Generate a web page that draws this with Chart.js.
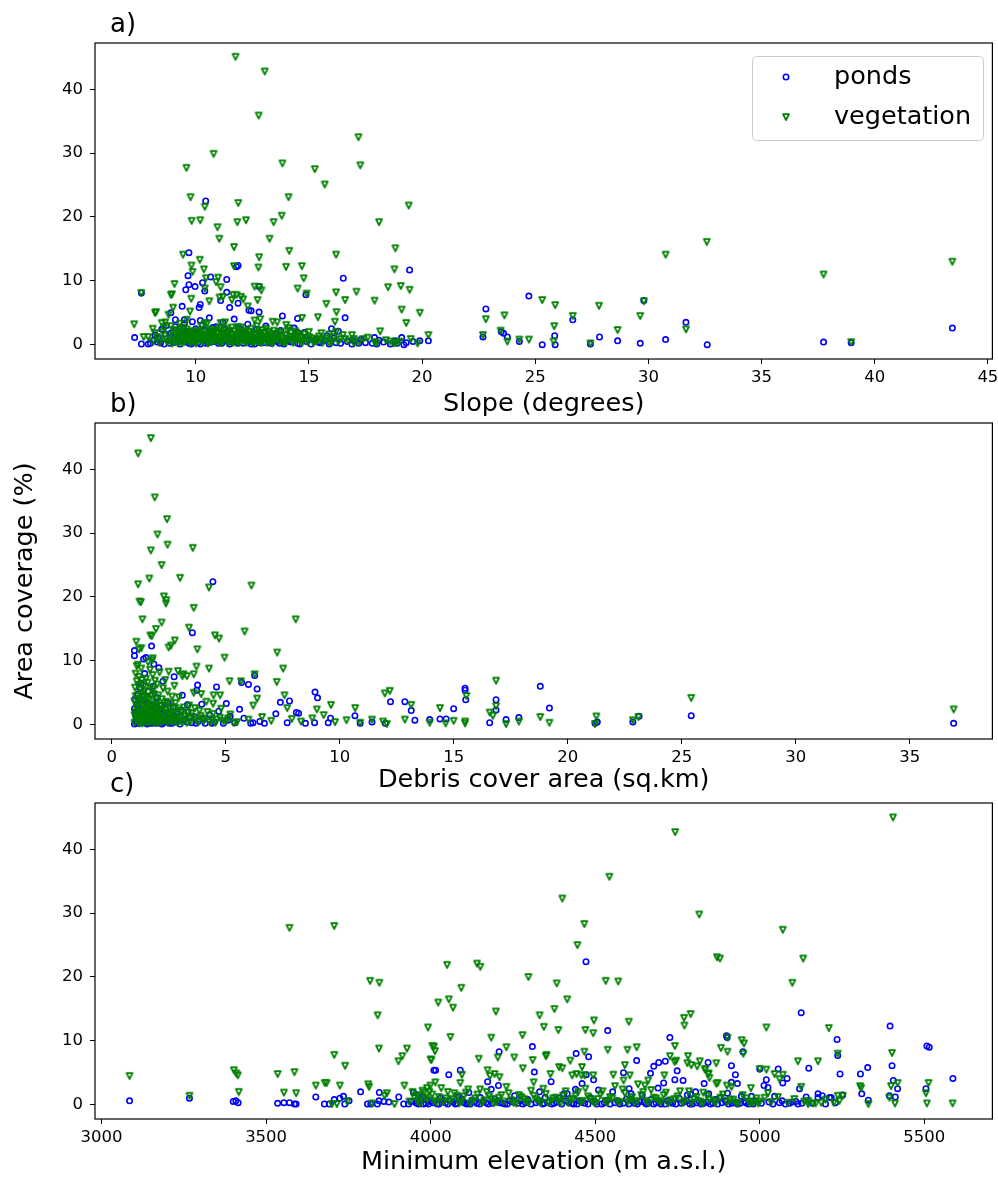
<!DOCTYPE html>
<html>
<head>
<meta charset="utf-8">
<script src="https://cdn.jsdelivr.net/npm/chart.js@4.4.1/dist/chart.umd.min.js"></script>
<style>
  html, body { margin: 0; padding: 0; background: #fff; }
  #wrap { position: relative; width: 998px; height: 1178px; }
  canvas { position: absolute; left: 0; }
</style>
</head>
<body>
<div id="wrap">
  <canvas id="panelA" width="998" height="420" style="top:0px"></canvas>
  <canvas id="panelB" width="998" height="420" style="top:380px"></canvas>
  <canvas id="panelC" width="998" height="418" style="top:760px"></canvas>
</div>
<script>
// tick labels
const yTicks = [0, 10, 20, 30, 40];
const slopeTicks = [10, 15, 20, 25, 30, 35, 40, 45];
const areaTicks = [0, 5, 10, 15, 20, 25, 30, 35];
const elevTicks = [3000, 3500, 4000, 4500, 5000, 5500];
const seriesNames = ['ponds', 'vegetation'];

// a) slope (degrees) vs area coverage (%)
const slopePonds = [
  [10.44,22.5],[9.7,14.4],[11.87,12.4],[9.66,10.8],[10.66,10.6],[11.37,10.2],[16.52,10.4],[19.45,11.7],
  [9.7,9.4],[9.97,9.1],[10.4,8.4],[12.8,9.1],[11.37,8.2],[7.6,8.1],[14.87,7.8],[11.1,6.9],[11.87,6.5],
  [10.2,6.3],[10.15,5.8],[9.4,6.0],[11.5,5.8],[12.35,5.4],[12.45,5.3],[12.8,5.1],[13.83,4.5],[14.5,4.1],
  [16.6,4.2],[9.1,3.9],[9.5,3.9],[8.9,5.0],[10.2,3.8],[16.0,2.5],[16.3,2.1],[14.5,1.9],[14.8,1.9],
  [15.8,1.4],[17.9,1.1],[18.1,0.7],[19.1,1.1],[19.6,0.5],[19.9,0.6],[7.3,1.1],[7.6,0.1],[7.9,0.1],
  [17.2,0.2],[17.5,0.3],[18.6,0.1],[18.9,0.2],[19.2,0],[10.3,9.7],[9.56,8.6],[11.8,12.2],
  [20.28,0.6],[22.82,5.6],[22.69,1.2],[23.5,2.0],[23.6,1.8],[23.77,1.2],[24.3,0.5],[24.72,7.6],
  [25.31,0],[25.86,1.4],[25.88,0],[26.66,3.9],[27.44,0.1],[27.84,1.2],[28.64,0.6],[29.64,0.2],
  [29.8,6.9],[30.76,0.8],[31.66,3.5],[32.6,0],[37.74,0.4],[38.96,0.3],[43.43,2.6],
  [8.0,0.2],[8.2,1.5],[8.3,0.4],[8.5,2.4],[8.6,0.1],[8.7,3.0],[8.8,0.6],[8.9,1.8],[9.0,0.3],[9.1,2.8],
  [9.2,0.9],[9.3,0.1],[9.4,1.4],[9.5,3.3],[9.55,0.5],[9.6,2.0],[9.7,0.2],[9.8,1.1],[9.85,3.6],[9.9,0.4],
  [10.0,2.5],[10.05,0.8],[10.1,1.6],[10.2,0.1],[10.3,3.1],[10.35,0.6],[10.4,2.2],[10.5,1.0],[10.55,0.3],
  [10.6,4.2],[10.7,1.9],[10.8,0.5],[10.9,2.8],[11.0,0.2],[11.1,1.3],[11.2,3.5],[11.3,0.7],[11.4,2.1],
  [11.5,0.1],[11.6,1.6],[11.7,4.0],[11.8,0.4],[11.9,2.6],[12.0,0.9],[12.1,0.2],[12.2,1.8],[12.3,3.2],
  [12.4,0.5],[12.5,1.2],[12.6,0.1],[12.7,2.4],[12.8,0.7],[12.9,1.5],[13.0,0.3],[13.1,2.9],[13.2,0.9],
  [13.35,0.2],[13.5,1.7],[13.6,0.5],[13.75,2.2],[13.9,0.1],[14.0,1.0],[14.2,0.4],[14.35,2.6],[14.5,0.2],
  [14.7,1.2],[14.9,0.5],[15.1,0.1],[15.3,0.9],[15.5,0.3],[15.7,0.6],[15.9,0.1],[16.1,1.0],[16.4,0.2],
  [16.7,0.5],[16.9,0.1],[17.3,0.8],[17.8,0.2],[18.3,0.4],[19.3,0.3]
];
const slopePondsBand = [
  [8.15,0.7],[8.35,1.1],[8.45,0.3],[8.65,1.7],[8.85,0.2],[9.05,1.2],[9.25,0.5],[9.45,2.5],[9.65,0.8],
  [9.8,0.1],[9.95,1.7],[10.1,0.3],[10.25,1.3],[10.45,0.2],[10.6,0.9],[10.75,2.7],[10.95,0.6],[11.15,0.2],
  [11.25,2.4],[11.45,0.4],[11.65,1.1],[11.85,0.2],[12.05,1.5],[12.25,0.6],[12.45,0.1],[12.65,1.0],
  [12.85,0.3],[13.05,1.9],[13.25,0.3],[13.45,1.1],[13.7,0.2],[14.1,0.6],[14.4,1.5],[14.6,0.1],[15.0,0.8],
  [15.4,0.4],[16.2,0.3],[17.0,0.6],[18.0,0.1],[18.8,0.6]
];
const slopeVeg = [
  [11.76,45.1],[13.05,42.8],[12.78,35.9],[17.19,32.5],[17.27,28.1],[10.79,29.9],[9.59,27.7],[13.83,28.4],
  [15.26,27.5],[15.7,25.1],[9.77,23.1],[14.1,23.1],[11.88,22.2],[10.4,21.6],[19.41,21.8],[9.82,19.4],
  [10.2,19.5],[11.84,19.2],[12.22,19.5],[13.44,19.2],[13.8,20.2],[18.1,19.2],[10.96,18.4],[11.04,16.6],
  [13.26,16.6],[11.69,15.3],[14.13,14.7],[16.2,14.1],[9.44,14.1],[18.82,15.1],[10.18,13.3],[12.8,13.7],
  [9.81,12.4],[11.69,12.3],[12.77,12.1],[13.99,12.2],[14.69,12.3],[18.78,11.8],[9.86,11.4],[10.36,11.8],
  [14.77,10.4],[10.99,10.5],[19.06,9.2],[18.5,9.0],[19.45,8.6],[19.9,5.0],[19.1,5.5],[19.3,3.4],[18.15,2.1],
  [17.9,6.9],[17.1,8.3],[16.2,8.2],[16.6,7.0],[15.77,6.4],[16.22,5.1],[16.15,3.6],[15.4,4.3],[14.7,4.2],
  [14.5,8.8],[14.9,8.0],[12.9,8.5],[12.6,9.1],[12.8,9.0],[12.73,7.0],[12.0,7.5],[12.1,7.1],[12.3,6.0],
  [11.8,7.8],[11.65,7.8],[11.6,7.0],[11.2,7.5],[11.05,7.4],[10.9,9.8],[11.1,9.0],[10.6,6.8],[10.4,8.8],
  [10.45,10.4],[9.8,7.2],[9.75,5.2],[9.6,3.9],[9.06,9.5],[8.9,7.8],[8.95,7.9],[8.2,5.0],[8.25,5.1],
  [8.8,4.7],[9.0,5.8],[7.59,8.1],[7.28,3.2],[8.1,2.5],[7.9,1.2],[7.7,1.2],[8.5,3.4],[8.65,3.5],[9.3,3.3],
  [10.5,3.3],[11.1,3.4],[11.3,3.5],[12.6,3.8],[12.85,4.0],[13.4,3.6],[13.6,3.5],[14.0,3.1],[14.1,2.6],[14.4,2.1],
  [20.28,1.5],[22.82,4.0],[22.69,1.5],[23.47,2.2],[23.64,4.6],[23.77,0.5],[24.3,0.8],[24.72,0.8],[25.31,7.0],
  [25.88,6.2],[25.84,2.9],[25.81,0.5],[26.66,4.5],[27.44,0.2],[27.82,6.1],[28.64,2.3],[29.64,4.5],[29.8,6.8],
  [30.76,14.1],[31.66,2.4],[32.58,16.1],[37.74,11.0],[38.96,0.4],[43.43,13.0],
  [8.1,0.5],[8.3,1.2],[8.4,0.3],[8.55,2.0],[8.7,0.8],[8.8,1.5],[8.95,0.2],[9.05,2.3],[9.15,1.0],[9.25,0.4],
  [9.35,1.8],[9.45,2.7],[9.55,0.7],[9.65,1.4],[9.75,0.3],[9.85,2.1],[9.95,1.1],[10.05,0.5],[10.15,1.9],
  [10.25,2.9],[10.3,0.9],[10.45,1.5],[10.55,0.2],[10.65,2.4],[10.75,1.2],[10.85,0.6],[10.95,1.7],[11.05,2.6],
  [11.15,0.4],[11.25,1.3],[11.35,0.8],[11.45,2.2],[11.55,1.0],[11.65,0.3],[11.75,1.6],[11.85,2.8],[11.95,0.6],
  [12.05,1.4],[12.15,2.0],[12.25,0.3],[12.35,1.1],[12.45,2.5],[12.55,0.7],[12.65,1.8],[12.75,0.4],[12.85,1.3],
  [12.95,2.3],[13.05,0.9],[13.15,0.3],[13.25,1.7],[13.4,0.6],[13.55,1.2],[13.7,2.0],[13.85,0.5],[14.0,1.5],
  [14.15,0.8],[14.3,0.3],[14.45,1.1],[14.6,0.6],[14.8,1.6],[14.95,0.4],[15.15,1.0],[15.35,0.5],[15.55,1.8],
  [15.7,0.7],[15.9,0.3],[16.1,1.2],[16.3,0.5],[16.5,1.5],[16.75,0.6],[17.0,0.2],[17.4,0.9],[17.9,0.4],
  [18.4,0.7],[18.75,0.2],[18.85,0.3],[19.0,0.5]
];
const slopeVegBand = [
  [8.2,1.8],[8.45,0.9],[8.6,2.6],[8.75,0.4],[8.9,2.9],[9.0,1.3],[9.1,0.6],[9.2,2.0],[9.3,1.1],[9.4,0.2],
  [9.5,1.6],[9.6,2.4],[9.7,0.9],[9.8,1.8],[9.9,0.5],[10.0,1.3],[10.1,2.2],[10.2,0.7],[10.35,1.4],[10.4,3.4],
  [10.5,0.9],[10.6,1.7],[10.7,0.4],[10.8,2.1],[10.9,1.0],[11.0,0.5],[11.1,1.9],[11.2,0.7],[11.3,2.5],
  [11.4,1.5],[11.5,0.5],[11.6,2.7],[11.7,1.0],[11.8,0.5],[11.9,1.9],[12.0,2.7],[12.1,1.2],[12.2,0.6],
  [12.3,1.5],[12.4,2.0],[12.5,0.9],[12.6,0.4],[12.7,2.9],[12.8,1.1],[12.9,0.6],[13.0,1.8],[13.1,2.5],
  [13.2,1.1],[13.3,0.4],[13.45,2.2],[13.6,0.9],[13.75,1.4],[13.9,0.3],[14.05,2.2],[14.2,1.2],[14.4,0.6],
  [14.55,1.7],[14.7,0.3],[14.85,1.0],[15.0,2.0],[15.25,0.7],[15.45,1.3],[15.6,0.3],[15.8,1.0],[16.0,0.4],
  [16.2,2.0],[16.6,0.9],[16.9,1.5],[17.2,0.4],[17.6,1.1],[18.0,0.3],[18.6,0.5],[19.5,0.9],[19.8,0.2],
  [9.0,0.4],[9.1,1.7],[9.2,0.3],[9.3,2.4],[9.4,1.2],[9.5,0.4],[9.6,1.0],[9.7,1.9],[9.8,0.6],[9.9,1.4],
  [10.0,0.2],[10.1,1.1],[10.2,1.8],[10.3,0.4],[10.4,1.2],[10.5,2.1],[10.6,0.5],[10.7,1.4],[10.8,0.9],
  [10.9,2.3],[11.0,1.2],[11.1,0.3],[11.2,1.6],[11.3,1.1],[11.4,0.3],[11.5,1.9],[11.6,0.6],[11.7,2.1],
  [11.8,1.2],[11.9,0.3],[12.0,1.6],[12.1,0.5],[12.2,2.2],[12.3,0.8],[12.4,1.3],[12.5,0.3],[12.6,1.5],
  [12.7,0.7],[12.8,1.9],[12.9,0.3],[13.0,1.1],[13.1,0.5],[13.2,2.0],[13.3,1.3],[13.4,0.2],[13.5,0.9],
  [13.6,1.7],[13.7,0.5],[13.8,1.1],[14.0,0.4],[14.2,1.9],[14.35,0.9],[14.5,1.4],[14.7,0.8],[15.0,1.2],
  [15.2,0.3],[15.5,0.9],[15.9,1.6],[16.4,0.9],[17.0,0.9]
];

// b) debris cover area (sq.km) vs area coverage (%)
const areaPonds = [
  [4.44,22.4],[3.54,14.4],[1.75,12.3],[1.0,11.6],[1.0,10.8],[1.4,10.3],[1.5,10.5],[2.07,8.9],[2.74,7.5],
  [6.27,7.7],[5.7,6.6],[6.0,6.3],[6.38,5.6],[3.77,6.2],[4.6,5.9],[3.73,5.4],[8.92,5.1],[9.03,4.2],[7.8,3.7],
  [7.4,3.5],[5.03,3.3],[3.32,3.1],[5.61,2.4],[8.2,1.8],[8.1,1.9],[10.67,1.4],[9.6,1.0],[5.2,1.3],[7.2,1.7],
  [6.2,0.3],[6.1,0.2],[6.7,0.2],[7.7,0.3],[8.5,0.2],[8.9,0.3],[9.5,0.3],[10.9,0.2],[11.42,0.4],[12.0,0.2],
  [12.23,3.6],[12.86,3.6],[13.14,2.2],[13.3,0.7],[13.95,0.8],[14.4,0.9],[14.67,0.9],[15.0,2.5],[15.5,5.7],
  [15.5,5.4],[15.53,3.9],[16.58,0.3],[16.86,3.9],[16.86,2.3],[17.3,0.8],[17.86,1.1],[18.8,6.0],[19.2,2.6],
  [21.2,0.2],[21.3,0.4],[22.86,0.4],[23.13,1.3],[25.42,1.4],[36.93,0.2],
  [1.0,0.1],[1.05,1.5],[1.1,3.2],[1.1,0.5],[1.15,4.8],[1.2,2.1],[1.25,0.2],[1.3,6.5],[1.3,1.0],[1.35,3.8],
  [1.4,0.4],[1.45,8.0],[1.5,2.6],[1.55,0.1],[1.6,5.2],[1.65,1.3],[1.7,0.6],[1.75,3.0],[1.8,0.2],[1.85,9.5],
  [1.9,1.8],[1.95,0.4],[2.0,4.2],[2.05,0.9],[2.1,2.4],[2.2,0.1],[2.25,6.8],[2.3,1.5],[2.4,0.5],[2.45,3.5],
  [2.55,0.2],[2.6,1.1],[2.7,2.8],[2.8,0.4],[2.9,1.7],[3.0,0.1],[3.1,4.6],[3.2,0.8],[3.35,2.0],[3.5,0.3],
  [3.65,1.2],[3.8,0.5],[3.95,3.2],[4.1,0.2],[4.3,1.5],[4.5,0.4],[4.7,2.1],[4.9,0.2],[5.1,0.7],[5.4,0.3],
  [5.8,1.0],[6.5,0.5]
];
const areaPondsBand = [
  [1.0,2.5],[1.02,4.0],[1.05,0.6],[1.08,1.9],[1.12,0.2],[1.15,2.9],[1.2,1.2],[1.22,5.8],[1.28,0.5],
  [1.32,2.4],[1.38,1.5],[1.42,4.4],[1.48,0.3],[1.52,1.8],[1.58,0.8],[1.62,3.4],[1.68,0.2],[1.72,2.0],
  [1.78,1.0],[1.82,6.0],[1.88,0.5],[1.92,2.8],[1.98,0.2],[2.02,1.3],[2.12,0.6],[2.18,3.0],[2.28,0.3],
  [2.35,1.9],[2.5,0.6],[2.65,0.2],[2.75,1.4],[2.95,0.6],[3.05,2.3],[3.3,0.4],[3.45,1.2],[3.7,0.2],
  [4.0,0.9],[4.4,0.2]
];
const areaVeg = [
  [1.72,44.9],[1.16,42.5],[1.89,35.6],[2.43,32.2],[2.01,29.8],[2.45,28.2],[3.56,27.7],[1.72,27.3],[2.19,25.0],
  [1.65,22.9],[3.0,23.0],[1.16,22.0],[4.27,21.5],[6.13,21.8],[2.29,20.1],[2.4,19.5],[1.22,19.3],[1.28,19.2],
  [2.38,19.0],[3.6,18.3],[1.35,16.5],[8.07,16.5],[2.19,16.0],[1.94,15.0],[3.39,15.2],[1.7,14.0],[1.76,13.9],
  [4.53,14.0],[4.71,13.5],[5.83,14.6],[1.08,13.0],[2.77,13.2],[2.6,12.4],[2.5,12.1],[1.3,12.0],[1.2,11.8],
  [3.76,11.8],[4.95,10.5],[7.26,11.3],[1.8,10.4],[1.78,10.1],[1.1,9.2],[1.15,9.4],[3.72,9.1],[4.27,8.8],
  [7.52,8.8],[2.91,8.4],[2.5,8.3],[3.1,7.6],[3.3,7.6],[3.6,7.9],[6.27,7.9],[5.17,6.8],[5.67,6.8],[7.24,6.7],
  [3.93,4.8],[4.47,4.6],[4.76,4.6],[7.58,4.6],[6.38,4.1],[4.45,3.3],[6.21,3.0],[7.7,2.6],[9.62,3.1],
  [10.68,2.6],[9.0,2.4],
  [11.42,0.8],[11.98,4.9],[12.2,5.3],[12.07,0.1],[12.86,0.8],[13.14,3.1],[13.95,0.3],[14.4,2.6],[14.65,0.2],
  [15.0,0.6],[15.5,0.5],[15.5,0.2],[15.56,4.5],[16.58,1.9],[16.72,1.4],[16.86,2.9],[16.86,6.9],[17.3,0.1],
  [17.86,0.5],[18.8,1.2],[19.2,0.3],[21.26,1.3],[21.2,0.1],[22.86,0.7],[23.1,1.2],[25.42,4.2],[36.93,2.4],
  [8.3,0.5],[8.8,1.0],[9.3,1.5],[9.8,0.4],[10.3,0.7],[10.9,0.3],[11.9,0.5],[7.9,0.9],[7.0,0.6],[6.6,1.2],
  [6.0,0.8],[5.5,0.4],
  [1.0,0.3],[1.05,2.0],[1.05,4.5],[1.1,6.8],[1.1,1.1],[1.15,3.0],[1.2,0.6],[1.2,7.5],[1.25,5.5],[1.3,1.8],
  [1.3,8.8],[1.35,0.2],[1.35,3.8],[1.4,6.0],[1.45,2.5],[1.5,0.9],[1.5,7.2],[1.55,4.2],[1.6,1.5],[1.6,9.8],
  [1.65,0.4],[1.7,3.2],[1.7,5.8],[1.75,2.1],[1.8,0.7],[1.8,7.8],[1.85,4.8],[1.9,1.2],[1.95,3.6],[2.0,0.3],
  [2.0,6.3],[2.05,2.4],[2.1,8.2],[2.15,1.0],[2.2,4.0],[2.25,0.5],[2.3,2.9],[2.35,7.0],[2.4,1.6],[2.45,5.2],
  [2.5,0.8],[2.55,3.3],[2.6,1.9],[2.7,0.4],[2.75,6.1],[2.8,2.6],[2.85,1.1],[2.95,4.3],[3.0,0.6],[3.05,2.0],
  [3.15,7.9],[3.2,1.3],[3.3,0.3],[3.4,3.0],[3.5,1.8],[3.6,5.0],[3.7,0.7],[3.85,2.2],[4.0,1.0],[4.15,3.6],
  [4.3,0.4],[4.45,1.7],[4.6,0.8],[4.8,2.5],[5.0,0.5],[5.2,1.6],[5.35,0.3]
];
const areaVegBand = [
  [1.0,1.5],[1.0,3.6],[1.02,5.8],[1.05,8.0],[1.08,0.8],[1.1,2.6],[1.12,4.0],[1.15,1.6],[1.18,6.2],[1.2,0.2],
  [1.22,3.4],[1.25,2.0],[1.28,4.9],[1.3,0.5],[1.32,7.0],[1.35,1.3],[1.38,2.8],[1.4,4.5],[1.42,0.9],[1.45,5.3],
  [1.48,1.9],[1.5,3.3],[1.52,0.3],[1.55,2.2],[1.58,6.6],[1.6,1.0],[1.62,4.0],[1.65,2.6],[1.68,8.6],[1.7,0.6],
  [1.72,1.7],[1.75,4.5],[1.78,3.0],[1.8,1.3],[1.82,5.5],[1.85,0.3],[1.88,2.4],[1.9,6.9],[1.92,1.5],[1.95,3.1],
  [1.98,0.8],[2.0,2.0],[2.05,4.6],[2.08,1.3],[2.1,0.4],[2.15,3.0],[2.2,1.8],[2.25,5.7],[2.3,0.7],[2.35,2.3],
  [2.4,3.6],[2.45,0.3],[2.5,1.4],[2.55,2.6],[2.6,0.6],[2.65,4.4],[2.7,1.7],[2.75,0.9],[2.8,3.4],[2.9,0.3],
  [2.95,2.2],[3.0,1.2],[3.1,0.4],[3.15,2.7],[3.25,0.9],[3.35,1.9],[3.45,0.5],[3.55,1.2],[3.65,2.6],[3.8,0.4],
  [3.9,1.4],[4.05,0.6],[4.2,2.0],[4.4,0.9],[4.55,0.3],[4.75,1.1],[4.9,0.6],[5.1,1.0]
];

// c) minimum elevation (m a.s.l.) vs area coverage (%)
const elevPonds = [
  [3085,0.6],[3267,1.0],[3400,0.5],[3408,0.6],[3415,0.3],[3535,0.2],[3554,0.3],[3571,0.3],[3586,0.1],
  [3591,0.1],[3651,1.2],[3677,0.1],[3692,0.1],[3707,0.8],[3724,1.0],[3735,1.3],[3739,0.1],[3752,0.6],
  [3787,2.0],[3808,0.1],[3818,0.1],[3838,0.1],[3843,0.6],[3844,1.9],[3858,0.5],[3873,0.4],[3903,1.2],
  [3918,0.1],[3933,0.1],[3948,1.9],[3963,0.1],[3978,0.1],[3993,0.1],[4010,5.4],
  [4015,5.4],[4055,4.7],[4090,5.4],[4116,1.9],[4151,1.1],[4173,3.6],[4184,2.4],[4206,3.0],[4208,8.3],
  [4255,1.4],[4309,9.1],[4315,5.1],[4331,2.0],[4348,1.1],[4366,3.6],[4405,1.7],[4415,1.7],[4440,2.4],
  [4442,8.0],[4460,3.3],[4472,22.4],[4473,4.7],[4480,7.5],[4495,3.9],[4510,2.3],[4538,11.6],[4553,2.0],
  [4586,5.0],[4603,2.5],[4609,1.7],[4626,6.9],[4643,1.5],[4668,4.9],[4678,6.0],[4693,6.6],[4691,2.6],
  [4708,3.4],[4713,6.8],[4727,10.5],[4742,3.9],[4749,5.3],[4767,3.8],[4780,1.5],[4790,1.6],[4805,2.0],
  [4831,3.3],[4843,6.6],[4845,1.7],
  [4899,10.8],[4901,10.5],[4949,8.3],[4914,6.1],[4926,4.7],[4914,3.5],[4932,3.3],[4902,1.8],[4879,1.0],
  [4944,1.3],[4954,0.5],[5000,5.6],[5020,3.9],[5013,3.0],[5025,2.7],[5056,5.6],[5070,3.4],[5083,4.1],
  [5126,14.4],[5149,5.7],[5121,2.5],[5141,1.2],[5177,1.7],[5177,1.1],[5190,1.4],[5212,1.1],[5217,1.1],
  [5252,1.5],[5235,10.2],[5237,7.7],[5244,4.8],[5306,4.8],[5328,5.8],[5310,1.7],[5330,0.7],[5396,12.3],
  [5402,6.1],[5406,3.8],[5419,2.5],[5394,1.4],[5412,1.2],[5508,9.2],[5515,9.0],[5505,2.5],[5587,4.1],
  [5045,1.3],[5078,0.1],[5099,0.4],[5116,0.1],[5128,0.2],[5068,0.6],[5028,0.4],[4975,1.3],
  [3955,0.3],[3970,0.8],[3985,0.2],[4000,0.5],[4020,0.1],[4030,1.0],[4045,0.3],[4060,0.6],[4075,0.1],
  [4085,1.2],[4100,0.4],[4110,0.1],[4125,0.7],[4140,0.2],[4160,0.5],[4175,0.1],[4195,0.9],[4210,0.3],
  [4225,0.1],[4240,0.6],[4265,0.2],[4280,0.1],[4295,0.8],[4320,0.3],[4340,0.1],[4360,0.5],[4375,0.2],
  [4390,1.0],[4420,0.3],[4435,0.1],[4450,0.6],[4468,0.2],[4485,1.1],[4500,0.4],[4520,0.1],[4535,0.7],
  [4560,0.3],[4575,0.1],[4595,0.9],[4620,0.2],[4635,0.5],[4655,0.1],[4670,0.8],[4685,0.3],[4700,0.1],
  [4720,0.6],[4735,0.2],[4755,1.0],[4770,0.4],[4795,0.1],[4815,0.6],[4830,0.2],[4850,0.1],[4865,0.8],
  [4885,0.3],[4905,0.1],[4925,0.4],[4940,0.2],[4965,0.1],[4985,0.6]
];
const elevPondsBand = [
  [3940,0.5],[3958,0.2],[3975,1.2],[3990,0.6],[4008,0.3],[4025,0.1],[4040,0.7],[4052,0.1],[4068,0.4],
  [4080,0.2],[4095,0.9],[4105,0.2],[4120,0.1],[4133,0.5],[4148,0.1],[4168,0.3],[4188,0.2],[4203,0.6],
  [4218,0.2],[4233,0.1],[4250,0.4],[4273,0.6],[4288,0.3],[4305,0.1],[4328,0.6],[4345,0.2],[4368,0.1],
  [4383,0.4],[4398,0.1],[4412,0.6],[4428,0.2],[4445,0.1],[4458,0.4],[4478,0.1],[4492,0.6],[4505,0.1],
  [4528,0.3],[4545,0.1],[4568,0.6],[4585,0.2],[4602,0.1],[4612,0.6],[4628,0.1],[4648,0.4],[4662,0.2],
  [4678,0.1],[4695,0.5],[4712,0.1],[4728,0.4],[4745,0.1],[4762,0.2],[4778,0.6],[4788,0.1],[4808,0.3],
  [4822,0.1],[4840,0.4],[4858,0.2],[4872,0.1],[4895,0.6],[4915,0.2],[4932,0.1],[4958,0.3],[4980,0.1],
  [5005,0.2],[5040,0.1],[5060,0.3],[5090,0.2],[5110,0.5],[5160,0.2],[5200,0.1],[5230,0.3]
];
const elevVeg = [
  [3085,4.5],[3267,1.4],[3402,5.4],[3409,4.9],[3414,4.6],[3417,2.0],[3535,4.8],[3571,27.7],[3586,5.1],
  [3554,1.9],[3591,1.8],[3651,3.0],[3678,3.4],[3684,3.4],[3707,28.0],[3707,7.8],[3724,3.0],[3740,6.1],
  [3747,0.5],[3700,0.1],[3715,0.1],[3810,3.2],[3813,2.8],[3816,19.4],[3844,19.1],[3839,14.0],[3843,8.8],
  [3822,0.2],[3860,1.4],[3867,1.8],[3890,0.1],[3902,6.8],[3914,7.6],[3928,8.8],[3920,3.0],[3992,12.1],
  [4000,7.1],[4005,9.2],
  [4050,21.9],[4141,22.1],[4151,21.6],[4093,18.3],[4023,16.0],[4055,16.5],[4068,15.2],[4010,9.1],[4013,8.4],
  [4002,7.0],[4060,10.6],[4014,3.5],[3999,3.0],[3989,2.6],[3979,1.9],[3969,1.4],[4090,3.4],[4095,4.7],
  [4146,7.2],[4173,5.4],[4184,10.5],[4198,14.6],[4230,9.0],[4204,7.4],[4180,4.5],[4194,4.8],[4209,4.3],
  [4254,7.4],[4279,10.9],[4280,5.7],[4297,20.0],[4310,7.0],[4313,3.5],[4331,14.0],[4344,12.2],[4350,7.6],
  [4352,7.8],[4364,4.8],[4383,19.0],[4376,15.0],[4388,11.7],[4390,5.9],[4400,5.7],[4400,32.3],[4415,16.5],
  [4424,6.9],[4430,4.6],[4443,4.8],[4458,4.6],[4468,4.6],[4446,25.0],[4460,5.9],[4467,28.3],[4470,11.7],
  [4467,8.3],[4494,11.2],[4496,13.2],[4494,4.6],[4532,19.4],[4543,35.7],[4570,19.3],[4538,8.6],[4555,4.7],
  [4590,6.2],[4598,8.6],[4602,13.0],[4605,4.6],[4626,9.0],[4586,3.8],[4630,3.2],[4651,3.0],[4661,3.8],
  [4710,4.6],[4727,7.6],[4742,9.2],[4743,42.7],[4746,6.9],[4741,6.7],[4770,13.6],[4771,12.4],[4790,14.2],
  [4782,7.6],[4780,6.5],[4792,6.2],[4810,6.0],[4818,6.8],[4816,29.8],[4835,5.6],[4845,4.9],[4847,4.2],
  [4870,23.1],[4868,3.3],
  [4879,22.9],[4882,8.9],[4902,8.3],[4902,10.5],[4945,10.1],[4952,9.6],[4950,8.0],[4868,6.5],[4833,5.5],
  [4843,4.8],[4872,3.4],[4828,1.9],[4900,3.0],[4914,2.8],[4973,2.6],[5000,5.6],[5020,5.5],[5020,12.1],
  [5045,4.8],[5060,4.0],[5070,4.7],[5070,27.4],[5099,19.1],[5132,22.9],[5116,6.8],[5126,2.8],[5177,6.8],
  [5210,12.0],[5237,8.0],[5237,1.4],[5242,0.6],[5252,1.4],[5305,2.9],[5308,2.6],[5330,0.1],[5399,2.9],
  [5402,8.1],[5405,45.0],[5419,3.4],[5394,1.1],[5411,0.2],[5505,1.8],[5508,0.2],[5513,3.4],[5586,0.2],
  [5147,0.1],[5162,0.2],[5187,0.3],[5147,0.6],[4972,0.2],[4995,0.2],[5000,0.5],[5015,1.1],[5025,1.8],
  [3950,1.2],[3962,0.4],[3975,2.2],[3990,0.8],[4005,1.6],[4018,0.3],[4032,2.6],[4046,1.0],[4058,0.5],
  [4072,1.8],[4086,0.2],[4100,1.3],[4114,2.4],[4128,0.6],[4142,1.6],[4156,0.3],[4170,2.0],[4185,0.9],
  [4200,0.4],[4215,1.5],[4230,2.8],[4245,0.7],[4260,0.2],[4275,1.2],[4290,0.5],[4305,2.2],[4320,0.9],
  [4335,0.3],[4350,1.7],[4365,0.6],[4380,1.1],[4395,0.3],[4410,2.1],[4425,0.8],[4440,1.4],[4455,0.4],
  [4470,2.5],[4485,0.9],[4500,0.2],[4515,1.6],[4530,0.6],[4545,1.2],[4560,2.9],[4575,0.4],[4590,1.8],
  [4605,0.8],[4620,0.3],[4640,1.5],[4655,0.6],[4670,2.3],[4685,1.0],[4700,0.4],[4715,1.9],[4730,0.7],
  [4750,1.3],[4765,0.3],[4785,2.1],[4800,0.9],[4820,0.5],[4840,1.4],[4860,0.6],[4880,1.1],[4900,0.4],
  [4920,0.8],[4935,0.2],[4960,1.0],[4980,0.3]
];
const elevVegBand = [
  [3935,0.5],[3945,2.0],[3958,1.5],[3968,0.2],[3983,1.1],[3996,2.0],[4010,0.6],[4025,1.2],[4038,0.4],
  [4052,2.0],[4065,0.9],[4080,1.4],[4093,0.4],[4107,1.9],[4120,0.2],[4135,1.0],[4150,2.4],[4163,0.7],
  [4178,1.3],[4192,0.3],[4207,1.1],[4222,0.5],[4237,1.8],[4252,0.3],[4268,1.5],[4283,0.9],[4298,0.3],
  [4313,1.4],[4328,0.6],[4342,2.5],[4357,0.3],[4372,1.0],[4388,0.6],[4402,1.4],[4418,0.3],[4432,0.9],
  [4448,2.0],[4462,0.6],[4478,1.3],[4492,0.5],[4508,0.9],[4522,2.1],[4537,0.3],[4552,1.0],[4568,0.5],
  [4583,2.4],[4598,0.4],[4612,1.2],[4628,0.6],[4646,2.0],[4662,0.3],[4678,1.1],[4693,0.6],[4708,1.5],
  [4722,0.2],[4740,0.9],[4758,2.1],[4772,0.6],[4792,0.3],[4808,1.2],[4826,0.2],[4846,0.8],[4866,0.3],
  [4888,1.6],[4910,0.8],[4928,0.3],[4948,1.5],[4968,0.5],[4990,1.0],[5035,0.4],[5055,1.2],[5085,0.3],
  [5105,0.9],[5135,0.5],[5170,0.2],[5200,0.8],[5225,0.3]
];

const FONT = 'DejaVu Sans';
const PONDS_COLOR = '#0000ff';
const VEG_COLOR = '#008000';
const MARK_WIDTH = 1.6;
Chart.defaults.font.family = FONT;
Chart.defaults.color = '#000';

// matplotlib style 'v' marker: as wide as it is tall
function makeTriangleMarker() {
  const c = document.createElement('canvas');
  c.width = 10;
  c.height = 10;
  const g = c.getContext('2d');
  g.strokeStyle = VEG_COLOR;
  g.lineWidth = 1.8;
  g.lineJoin = 'round';
  g.beginPath();
  g.moveTo(2.0, 2.2);
  g.lineTo(8.0, 2.2);
  g.lineTo(5, 8.0);
  g.closePath();
  g.stroke();
  return c;
}
const triangleMarker = makeTriangleMarker();

function drawLegend(ctx) {
  ctx.fillStyle = 'rgba(255,255,255,0.8)';
  ctx.strokeStyle = '#cccccc';
  ctx.lineWidth = 1;
  ctx.beginPath();
  ctx.roundRect(752.5, 56.5, 231, 84, 4);
  ctx.fill();
  ctx.stroke();

  ctx.lineWidth = MARK_WIDTH;
  ctx.strokeStyle = PONDS_COLOR;
  ctx.beginPath();
  ctx.arc(786, 77, 2.7, 0, Math.PI * 2);
  ctx.stroke();
  ctx.drawImage(triangleMarker, 786 - 5, 117 - 5);

  ctx.fillStyle = '#000';
  ctx.font = '25.5px "' + FONT + '"';
  ctx.textBaseline = 'middle';
  ctx.textAlign = 'left';
  ctx.fillText(seriesNames[0], 834, 77);
  ctx.fillText(seriesNames[1], 834, 117);
}

function framePlugin(label, withLegend) {
  return {
    id: 'frame',
    afterDraw(chart) {
      const { ctx, chartArea: a } = chart;
      ctx.save();
      ctx.strokeStyle = '#000';
      ctx.lineWidth = 1.2;
      ctx.strokeRect(a.left, a.top, a.right - a.left, a.bottom - a.top);
      ctx.fillStyle = '#000';
      ctx.font = '26px "' + FONT + '"';
      ctx.textBaseline = 'alphabetic';
      ctx.textAlign = 'left';
      ctx.fillText(label, a.left + 15, a.top - 11);
      if (withLegend) drawLegend(ctx);
      ctx.restore();
    }
  };
}

function xAxis(min, max, ticks, title, titlePad, height) {
  return {
    type: 'linear',
    min: min,
    max: max,
    afterBuildTicks: s => { s.ticks = ticks.map(v => ({ value: v })); },
    afterFit: s => { s.height = height; s.paddingLeft = 0; s.paddingRight = 0; },
    ticks: { font: { size: 16.5 }, padding: 4, maxRotation: 0, autoSkip: false, callback: v => String(v) },
    grid: { drawOnChartArea: false, drawTicks: true, tickLength: 5, color: '#000', lineWidth: 1 },
    border: { display: false },
    title: { display: true, text: title, font: { size: 25.5 }, padding: { top: 0, bottom: titlePad } }
  };
}

function yAxis(title) {
  return {
    type: 'linear',
    min: -2.25,
    max: 47.25,
    afterBuildTicks: s => { s.ticks = yTicks.map(v => ({ value: v })); },
    afterFit: s => { s.width = 95; s.paddingTop = 0; s.paddingBottom = 0; },
    ticks: { font: { size: 16.5 }, padding: 7, autoSkip: false, callback: v => String(v) },
    grid: { drawOnChartArea: false, drawTicks: true, tickLength: 5, color: '#000', lineWidth: 1 },
    border: { display: false },
    title: title
      ? { display: true, text: title, font: { size: 25.5 }, padding: { top: 10, bottom: 0 } }
      : { display: false }
  };
}

function toXY(pairs) {
  return pairs.map(p => ({ x: p[0], y: p[1] }));
}

function makePanel(id, label, ponds, veg, xScale, yTitle, withLegend) {
  new Chart(document.getElementById(id), {
    type: 'scatter',
    data: {
      datasets: [
        {
          label: seriesNames[0],
          data: toXY(ponds),
          pointStyle: 'circle',
          pointRadius: 2.7,
          pointBorderWidth: MARK_WIDTH,
          pointBorderColor: PONDS_COLOR,
          pointBackgroundColor: 'rgba(0,0,0,0)',
          order: 1
        },
        {
          label: seriesNames[1],
          data: toXY(veg),
          pointStyle: triangleMarker,
          pointRadius: 3.5,
          pointBorderColor: VEG_COLOR,
          pointBackgroundColor: 'rgba(0,0,0,0)',
          order: 0
        }
      ]
    },
    options: {
      responsive: false,
      devicePixelRatio: 1,
      animation: false,
      events: [],
      layout: { padding: { left: 0, top: 43, right: 3, bottom: 0 } },
      plugins: { legend: { display: false }, tooltip: { enabled: false } },
      scales: { x: xScale, y: yAxis(yTitle) }
    },
    plugins: [framePlugin(label, withLegend)]
  });
}

makePanel('panelA', 'a)', slopePonds.concat(slopePondsBand), slopeVeg.concat(slopeVegBand),
  xAxis(5.55, 45.2, slopeTicks, 'Slope (degrees)', 0, 61), null, true);
makePanel('panelB', 'b)', areaPonds.concat(areaPondsBand), areaVeg.concat(areaVegBand),
  xAxis(-0.73, 38.63, areaTicks, 'Debris cover area (sq.km)', 4, 61), 'Area coverage (%)', false);
makePanel('panelC', 'c)', elevPonds.concat(elevPondsBand), elevVeg.concat(elevVegBand),
  xAxis(2980, 5707, elevTicks, 'Minimum elevation (m a.s.l.)', 0, 59), null, false);
</script>
</body>
</html>
